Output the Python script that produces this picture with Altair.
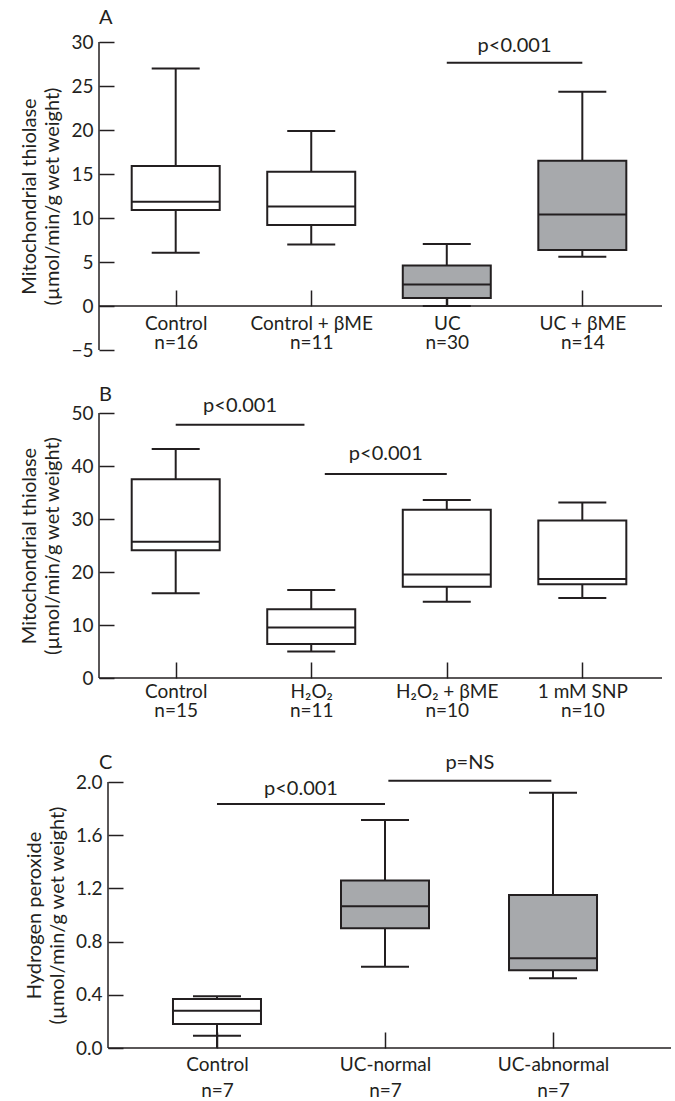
import json
import altair as alt
import pandas as pd

FONT = "Lato"
INK = "#231f20"
GREY = "#a7a9ac"

# ---------------- Panel A ----------------
A_groups = ["Control", "Control + βME", "UC", "UC + βME"]
A_n = [16, 11, 30, 14]
A_kind = ["control", "control", "UC", "UC"]
A_cap_low = [6.05, 7.0, 0.0, 5.6]
A_line_low = [6.05, 7.0, 0.0, 5.6]
A_q1 = [10.9, 9.2, 0.9, 6.35]
A_median = [11.85, 11.3, 2.45, 10.4]
A_q3 = [15.9, 15.25, 4.6, 16.5]
A_high = [27.0, 19.9, 7.05, 24.35]
A_cmp_from = [2]
A_cmp_to = [3]
A_cmp_y = [27.65]
A_cmp_text_y = [28.85]
A_cmp_label = ["p<0.001"]

# ---------------- Panel B ----------------
B_groups = ["Control", "H₂O₂", "H₂O₂ + βME", "1 mM SNP"]
B_n = [15, 11, 10, 10]
B_kind = ["control", "control", "control", "control"]
B_cap_low = [16.0, 5.0, 14.4, 15.1]
B_line_low = [16.0, 5.0, 14.4, 15.1]
B_q1 = [24.1, 6.4, 17.2, 17.7]
B_median = [25.7, 9.55, 19.55, 18.7]
B_q3 = [37.5, 12.95, 31.75, 29.7]
B_high = [43.2, 16.6, 33.6, 33.1]
B_cmp_from = [0, 1.1]
B_cmp_to = [0.95, 2.0]
B_cmp_y = [47.8, 38.5]
B_cmp_text_y = [50.2, 41.1]
B_cmp_label = ["p<0.001", "p<0.001"]

# ---------------- Panel C ----------------
C_groups = ["Control", "UC-normal", "UC-abnormal"]
C_n = [7, 7, 7]
C_kind = ["control", "UC", "UC"]
C_cap_low = [0.092, 0.61, 0.525]
C_line_low = [0.0, 0.61, 0.525]
C_q1 = [0.18, 0.90, 0.585]
C_median = [0.28, 1.065, 0.675]
C_q3 = [0.368, 1.26, 1.15]
C_high = [0.39, 1.715, 1.92]
C_cmp_from = [0, 1.02]
C_cmp_to = [1.0, 1.99]
C_cmp_y = [1.835, 2.01]
C_cmp_text_y = [1.90, 2.10]
C_cmp_label = ["p<0.001", "p=NS"]


def panel(letter, groups, n, kind, cap_low, line_low, q1, med, q3, high,
          cmp_from, cmp_to, cmp_y, cmp_text_y, cmp_label,
          ydomain, yticks, yfmt, ytitle, width, height, xdomain, xshift,
          title_offset, title_pad, label_lh, label_pad, bottom_gap):
    df = pd.DataFrame({
        "idx": list(range(len(groups))), "group": groups, "kind": kind,
        "cap_low": cap_low, "line_low": line_low, "q1": q1, "median": med,
        "q3": q3, "high": high,
    })
    cmp_df = pd.DataFrame({"from": cmp_from, "to": cmp_to, "y": cmp_y,
                           "ty": cmp_text_y, "label": cmp_label})
    labels = [f"{g}|n={k}" for g, k in zip(groups, n)]
    zero_from_bottom = (0 - ydomain[0]) / (ydomain[1] - ydomain[0]) * height

    xscale = alt.Scale(domain=xdomain, nice=False, zero=False)
    yscale = alt.Scale(domain=ydomain, nice=False, zero=False)

    axis_kw = dict(
        values=list(range(len(groups))),
        labelExpr="split(" + json.dumps(labels, ensure_ascii=False) + "[datum.value], '|')",
        domain=False, grid=False, tickSize=16, tickColor=INK,
        tickWidth=1.5, offset=-(zero_from_bottom + 16), labelPadding=label_pad,
        labelFontSize=19, labelLineHeight=label_lh, labelFont=FONT,
        labelColor=INK, labelOverlap=False, labelFlush=False, labelBound=False,
    )
    if bottom_gap:
        # blank spacer below the labels, to keep room before the next panel
        axis_kw.update(title=" ", titleFontSize=bottom_gap, titlePadding=0)
    else:
        axis_kw.update(title=None)
    xaxis = alt.Axis(**axis_kw)
    yaxis = alt.Axis(
        values=yticks, format=yfmt, title=ytitle, domain=False, grid=False,
        tickSize=15, tickColor=INK, tickWidth=1.5, offset=-(15 + xshift),
        labelPadding=6, labelFontSize=19, labelFont=FONT, labelColor=INK,
        titleFont=FONT, titleFontSize=20, titleFontWeight="normal",
        titleColor=INK, titleLineHeight=23, titlePadding=title_pad,
        labelFlush=False, labelOverlap=False,
    )

    base = alt.Chart(df).encode(x=alt.X("idx:Q", scale=xscale, axis=xaxis))
    one = alt.Chart(pd.DataFrame({"a": [0]}))

    yline = one.mark_rule(color=INK, strokeWidth=1.5).encode(
        x=alt.value(xshift), y=alt.value(0), y2=alt.value(height))
    xline = one.mark_rule(color=INK, strokeWidth=1.5).encode(
        y=alt.datum(0, scale=yscale), x=alt.value(xshift), x2=alt.value(width))

    whisker = base.mark_rule(color=INK, strokeWidth=2).encode(
        y=alt.Y("line_low:Q", scale=yscale, axis=yaxis), y2="high:Q")
    box = base.mark_bar(size=88, stroke=INK, strokeWidth=2).encode(
        y="q1:Q", y2="q3:Q",
        fill=alt.Fill("kind:N", scale=alt.Scale(domain=["control", "UC"],
                                                range=["#ffffff", GREY]),
                      legend=None))
    med_t = base.mark_tick(orient="horizontal", size=88, thickness=2,
                           color=INK, opacity=1).encode(y="median:Q")
    cap_hi = base.mark_tick(orient="horizontal", size=48, thickness=2,
                            color=INK, opacity=1).encode(y="high:Q")
    cap_lo = base.mark_tick(orient="horizontal", size=48, thickness=2,
                            color=INK, opacity=1).encode(y="cap_low:Q")

    cbase = alt.Chart(cmp_df)
    crule = cbase.mark_rule(color=INK, strokeWidth=2).encode(
        x="from:Q", x2="to:Q", y="y:Q")
    ctext = cbase.transform_calculate(mid="(datum['from'] + datum['to']) / 2").mark_text(
        font=FONT, fontSize=20, color=INK, baseline="alphabetic", align="center"
    ).encode(x="mid:Q", y="ty:Q", text="label:N")

    return alt.layer(yline, xline, whisker, box, med_t, cap_hi, cap_lo,
                     crule, ctext).properties(
        width=width, height=height,
        title=alt.TitleParams(letter, anchor="start", frame="group", font=FONT,
                              fontSize=20, fontWeight="normal", color=INK,
                              offset=title_offset),
    )


pA = panel("A", A_groups, A_n, A_kind, A_cap_low, A_line_low, A_q1, A_median,
           A_q3, A_high, A_cmp_from, A_cmp_to, A_cmp_y, A_cmp_text_y, A_cmp_label,
           [-5, 30], [-5, 0, 5, 10, 15, 20, 25, 30], "d",
           ["Mitochondrial thiolase", "(µmol/min/g wet weight)"],
           563, 308, [-0.529, 3.551], 0, 5, 8, 19, 8, 0)
pB = panel("B", B_groups, B_n, B_kind, B_cap_low, B_line_low, B_q1, B_median,
           B_q3, B_high, B_cmp_from, B_cmp_to, B_cmp_y, B_cmp_text_y, B_cmp_label,
           [0, 50], [0, 10, 20, 30, 40, 50], "d",
           ["Mitochondrial thiolase", "(µmol/min/g wet weight)"],
           563, 265, [-0.529, 3.551], 0, -9, 8, 19, 4, 8)
pC = panel("C", C_groups, C_n, C_kind, C_cap_low, C_line_low, C_q1, C_median,
           C_q3, C_high, C_cmp_from, C_cmp_to, C_cmp_y, C_cmp_text_y, C_cmp_label,
           [0, 2], [0, 0.4, 0.8, 1.2, 1.6, 2.0], ".1f",
           ["Hydrogen peroxide", "(µmol/min/g wet weight)"],
           572, 266, [-0.6725, 2.6725], 9, -20, 8, 26, 7, 0)

chart = alt.vconcat(pA, pB, pC, spacing=24).properties(
    padding={"left": 19, "top": 8, "right": 2, "bottom": 0},
    background="white",
).configure_view(stroke=None)

chart.save("out.html", embed_options={"renderer": "svg", "actions": False})
